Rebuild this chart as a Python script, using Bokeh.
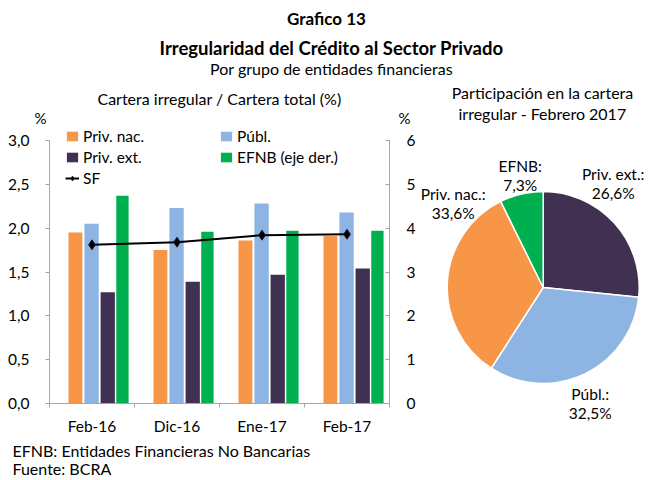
from math import pi
from bokeh.plotting import figure
from bokeh.models import (Range1d, LinearAxis, FixedTicker, Legend, LegendItem,
                          ColumnDataSource)
from bokeh.layouts import column, row
from bokeh.core.properties import value
from bokeh.embed import file_html
from bokeh.resources import INLINE

# ---------------- data ----------------
categories = ["Feb-16", "Dic-16", "Ene-17", "Feb-17"]
priv_nac = [1.95, 1.75, 1.86, 1.91]
publ = [2.05, 2.23, 2.28, 2.18]
priv_ext = [1.27, 1.39, 1.47, 1.54]
efnb_right = [4.74, 3.92, 3.94, 3.94]
sf = [1.81, 1.84, 1.92, 1.93]

left_ticks = [0.0, 0.5, 1.0, 1.5, 2.0, 2.5, 3.0]
left_tick_labels = ["0,0", "0,5", "1,0", "1,5", "2,0", "2,5", "3,0"]
right_ticks = [0, 1, 2, 3, 4, 5, 6]

pie_names = ["Priv. ext.", "Públ.", "Priv. nac.", "EFNB"]
pie_values = [26.6, 32.5, 33.6, 7.3]

# ---------------- style ----------------
FONT = "Lato"
C_NAC = "#F79646"
C_PUBL = "#8DB4E2"
C_EXT = "#403152"
C_EFNB = "#00B050"
AX = "#A6A6A6"
pie_colors = [C_EXT, C_PUBL, C_NAC, C_EFNB]

W = 646            # total width
TOP_H = 128        # title strip
MID_H = 312        # bars + pie
FOOT_H = 38        # footnotes


def blank(width, height, xr, yr):
    f = figure(width=width, height=height, x_range=Range1d(*xr), y_range=Range1d(*yr),
               output_backend="svg", toolbar_location=None,
               x_axis_location=None, y_axis_location=None, frame_align=False,
               min_border=0, min_border_left=0, min_border_right=0,
               min_border_top=0, min_border_bottom=0)
    f.outline_line_color = None
    f.grid.visible = False
    return f


def txt(f, x, y, s, size="15px", bold=False, align="center"):
    f.text(x=[x], y=[y], text=[s], text_font=value(FONT), text_font_size=size,
           text_font_style="bold" if bold else "normal", text_align=align,
           text_baseline="middle", text_color="black")


# ---------------- title strip (y = -page_y) ----------------
tf = blank(W, TOP_H, (0, W), (-TOP_H, 0))
txt(tf, 326, -18, "Grafico 13", size="17px", bold=True)
txt(tf, 331, -47, "Irregularidad del Crédito al Sector Privado", size="18.5px", bold=True)
txt(tf, 331, -68, "Por grupo de entidades financieras", size="16px")
txt(tf, 219, -98, "Cartera irregular / Cartera total (%)", size="16px")
txt(tf, 542, -92, "Participación en la cartera", size="16px")
txt(tf, 542, -113, "irregular - Febrero 2017", size="16px")
txt(tf, 40, -117.5, "%", size="15px")
txt(tf, 404, -117.5, "%", size="15px")

# ---------------- bar figure ----------------
BAR_W = 420
FR_LEFT, FR_RIGHT = 49, 389        # frame edges (page px)
FR_BOTTOM = 403                    # page px of value 0
Y3_PX = 140                        # page px of value 3.0
frame_h = FR_BOTTOM - TOP_H
ymax = 3.0 * frame_h / (FR_BOTTOM - Y3_PX)

idx = list(range(len(categories)))
centers = [i + 0.5 for i in idx]
src = ColumnDataSource(dict(
    x_nac=[c - 0.195 for c in centers], x_publ=[c - 0.005 for c in centers],
    x_ext=[c + 0.185 for c in centers], x_efnb=[c + 0.358 for c in centers],
    xc=centers, nac=priv_nac, publ=publ, ext=priv_ext, efnb=efnb_right, sf=sf))

p = figure(width=BAR_W, height=MID_H, x_range=Range1d(0, len(categories)),
           y_range=Range1d(0, ymax), output_backend="svg", toolbar_location=None,
           frame_align=False,
           min_border_left=FR_LEFT, min_border_right=BAR_W - FR_RIGHT,
           min_border_top=0, min_border_bottom=TOP_H + MID_H - FR_BOTTOM)
p.outline_line_color = None
p.grid.visible = False
p.extra_y_ranges = {"right": Range1d(0, 2 * ymax)}

r_nac = p.vbar(x="x_nac", top="nac", width=0.163, source=src, fill_color=C_NAC, line_color=None)
r_publ = p.vbar(x="x_publ", top="publ", width=0.168, source=src, fill_color=C_PUBL, line_color=None)
r_ext = p.vbar(x="x_ext", top="ext", width=0.168, source=src, fill_color=C_EXT, line_color=None)
r_efnb = p.vbar(x="x_efnb", top="efnb", width=0.145, source=src, fill_color=C_EFNB,
                line_color=None, y_range_name="right")
r_sfl = p.line(x="xc", y="sf", source=src, line_color="black", line_width=2)
r_sfm = p.scatter(x="xc", y="sf", source=src, marker="diamond", size=10,
                  fill_color="black", line_color="#1a1a2a", line_width=1)

# left axis
ya = p.yaxis[0]
ya.bounds = (0, 3)
ya.ticker = FixedTicker(ticks=left_ticks)
ya.major_label_overrides = {t: l for t, l in zip(left_ticks, left_tick_labels)}
ya.axis_line_color = AX
ya.major_tick_line_color = AX
ya.major_tick_out = 4
ya.major_tick_in = 0
ya.minor_tick_line_color = None
ya.major_label_standoff = 16
ya.major_label_text_font = FONT
ya.major_label_text_font_size = "15.5px"
ya.major_label_text_color = "black"

# right axis
ra = LinearAxis(y_range_name="right", ticker=FixedTicker(ticks=right_ticks), bounds=(0, 6))
ra.axis_line_color = AX
ra.major_tick_line_color = AX
ra.major_tick_out = 0
ra.major_tick_in = 4
ra.minor_tick_line_color = None
ra.major_label_standoff = 17
ra.major_label_text_font = FONT
ra.major_label_text_font_size = "15.5px"
ra.major_label_text_color = "black"
p.add_layout(ra, "right")

# bottom axis
xa = p.xaxis[0]
xa.ticker = FixedTicker(ticks=centers, minor_ticks=[0] + [i + 1 for i in idx])
xa.major_label_overrides = {c: n for c, n in zip(centers, categories)}
xa.axis_line_color = AX
xa.major_tick_line_color = None
xa.major_tick_out = 0
xa.major_tick_in = 0
xa.minor_tick_line_color = AX
xa.minor_tick_out = 4
xa.minor_tick_in = 0
xa.major_label_standoff = 9
xa.major_label_text_font = FONT
xa.major_label_text_font_size = "15.5px"
xa.major_label_text_color = "black"

# legends (location = bottom-left corner, measured from frame bottom-left)
ROW_H, ROW_GAP = 20, 1
LEG_TOP = 126  # page px


def mk_legend(items, page_x):
    n = len(items)
    h = n * ROW_H + (n - 1) * ROW_GAP
    lg = Legend(items=items, location=(page_x - FR_LEFT, FR_BOTTOM - (LEG_TOP + h)),
                padding=0, margin=0, spacing=ROW_GAP,
                glyph_width=14, glyph_height=12, label_height=ROW_H, label_standoff=4,
                label_text_font=FONT, label_text_font_size="15.5px", label_text_color="black",
                background_fill_alpha=0, border_line_color=None)
    p.add_layout(lg, "center")


mk_legend([LegendItem(label="Priv. nac.", renderers=[r_nac]),
           LegendItem(label="Priv. ext.", renderers=[r_ext]),
           LegendItem(label="SF", renderers=[r_sfl, r_sfm])], 65)
mk_legend([LegendItem(label="Públ.", renderers=[r_publ]),
           LegendItem(label="EFNB (eje der.)", renderers=[r_efnb])], 219)

# ---------------- pie figure (x = page_x, y = -page_y) ----------------
PIE_W = W - BAR_W
q = blank(PIE_W, MID_H, (BAR_W, W), (-(TOP_H + MID_H), -TOP_H))
cx, cy, rad = 542.7, -287, 96
total = sum(pie_values)
starts, ends, cum = [], [], 0.0
for v in pie_values:
    starts.append(pi / 2 - 2 * pi * cum / total)
    cum += v
    ends.append(pi / 2 - 2 * pi * cum / total)
psrc = ColumnDataSource(dict(start=starts, end=ends, color=pie_colors))
q.wedge(x=cx, y=cy, radius=rad, start_angle="start", end_angle="end", direction="clock",
        fill_color="color", line_color="white", line_width=1.5, source=psrc)

label_offsets = [(70, 114), (47, -106), (-90, 94), (-23, 122)]
lx = [cx + dx for dx, dy in label_offsets]
ly1 = [cy + dy for dx, dy in label_offsets]
ly2 = [y - 19 for y in ly1]
pct = [f"{v:.1f}".replace(".", ",") + "%" for v in pie_values]
q.text(x=lx, y=ly1, text=[n + ":" for n in pie_names], text_font=value(FONT),
       text_font_size="15.5px", text_align="center", text_baseline="middle", text_color="black")
q.text(x=lx, y=ly2, text=pct, text_font=value(FONT),
       text_font_size="15.5px", text_align="center", text_baseline="middle", text_color="black")

# ---------------- footnotes ----------------
ff = blank(W, FOOT_H, (0, W), (-(TOP_H + MID_H + FOOT_H), -(TOP_H + MID_H)))
txt(ff, 12, -450, "EFNB: Entidades Financieras No Bancarias", size="16px", align="left")
txt(ff, 12, -467.5, "Fuente: BCRA", size="16px", align="left")

layout = column(tf, row(p, q), ff)
open("out.html", "w").write(file_html(layout, INLINE))
